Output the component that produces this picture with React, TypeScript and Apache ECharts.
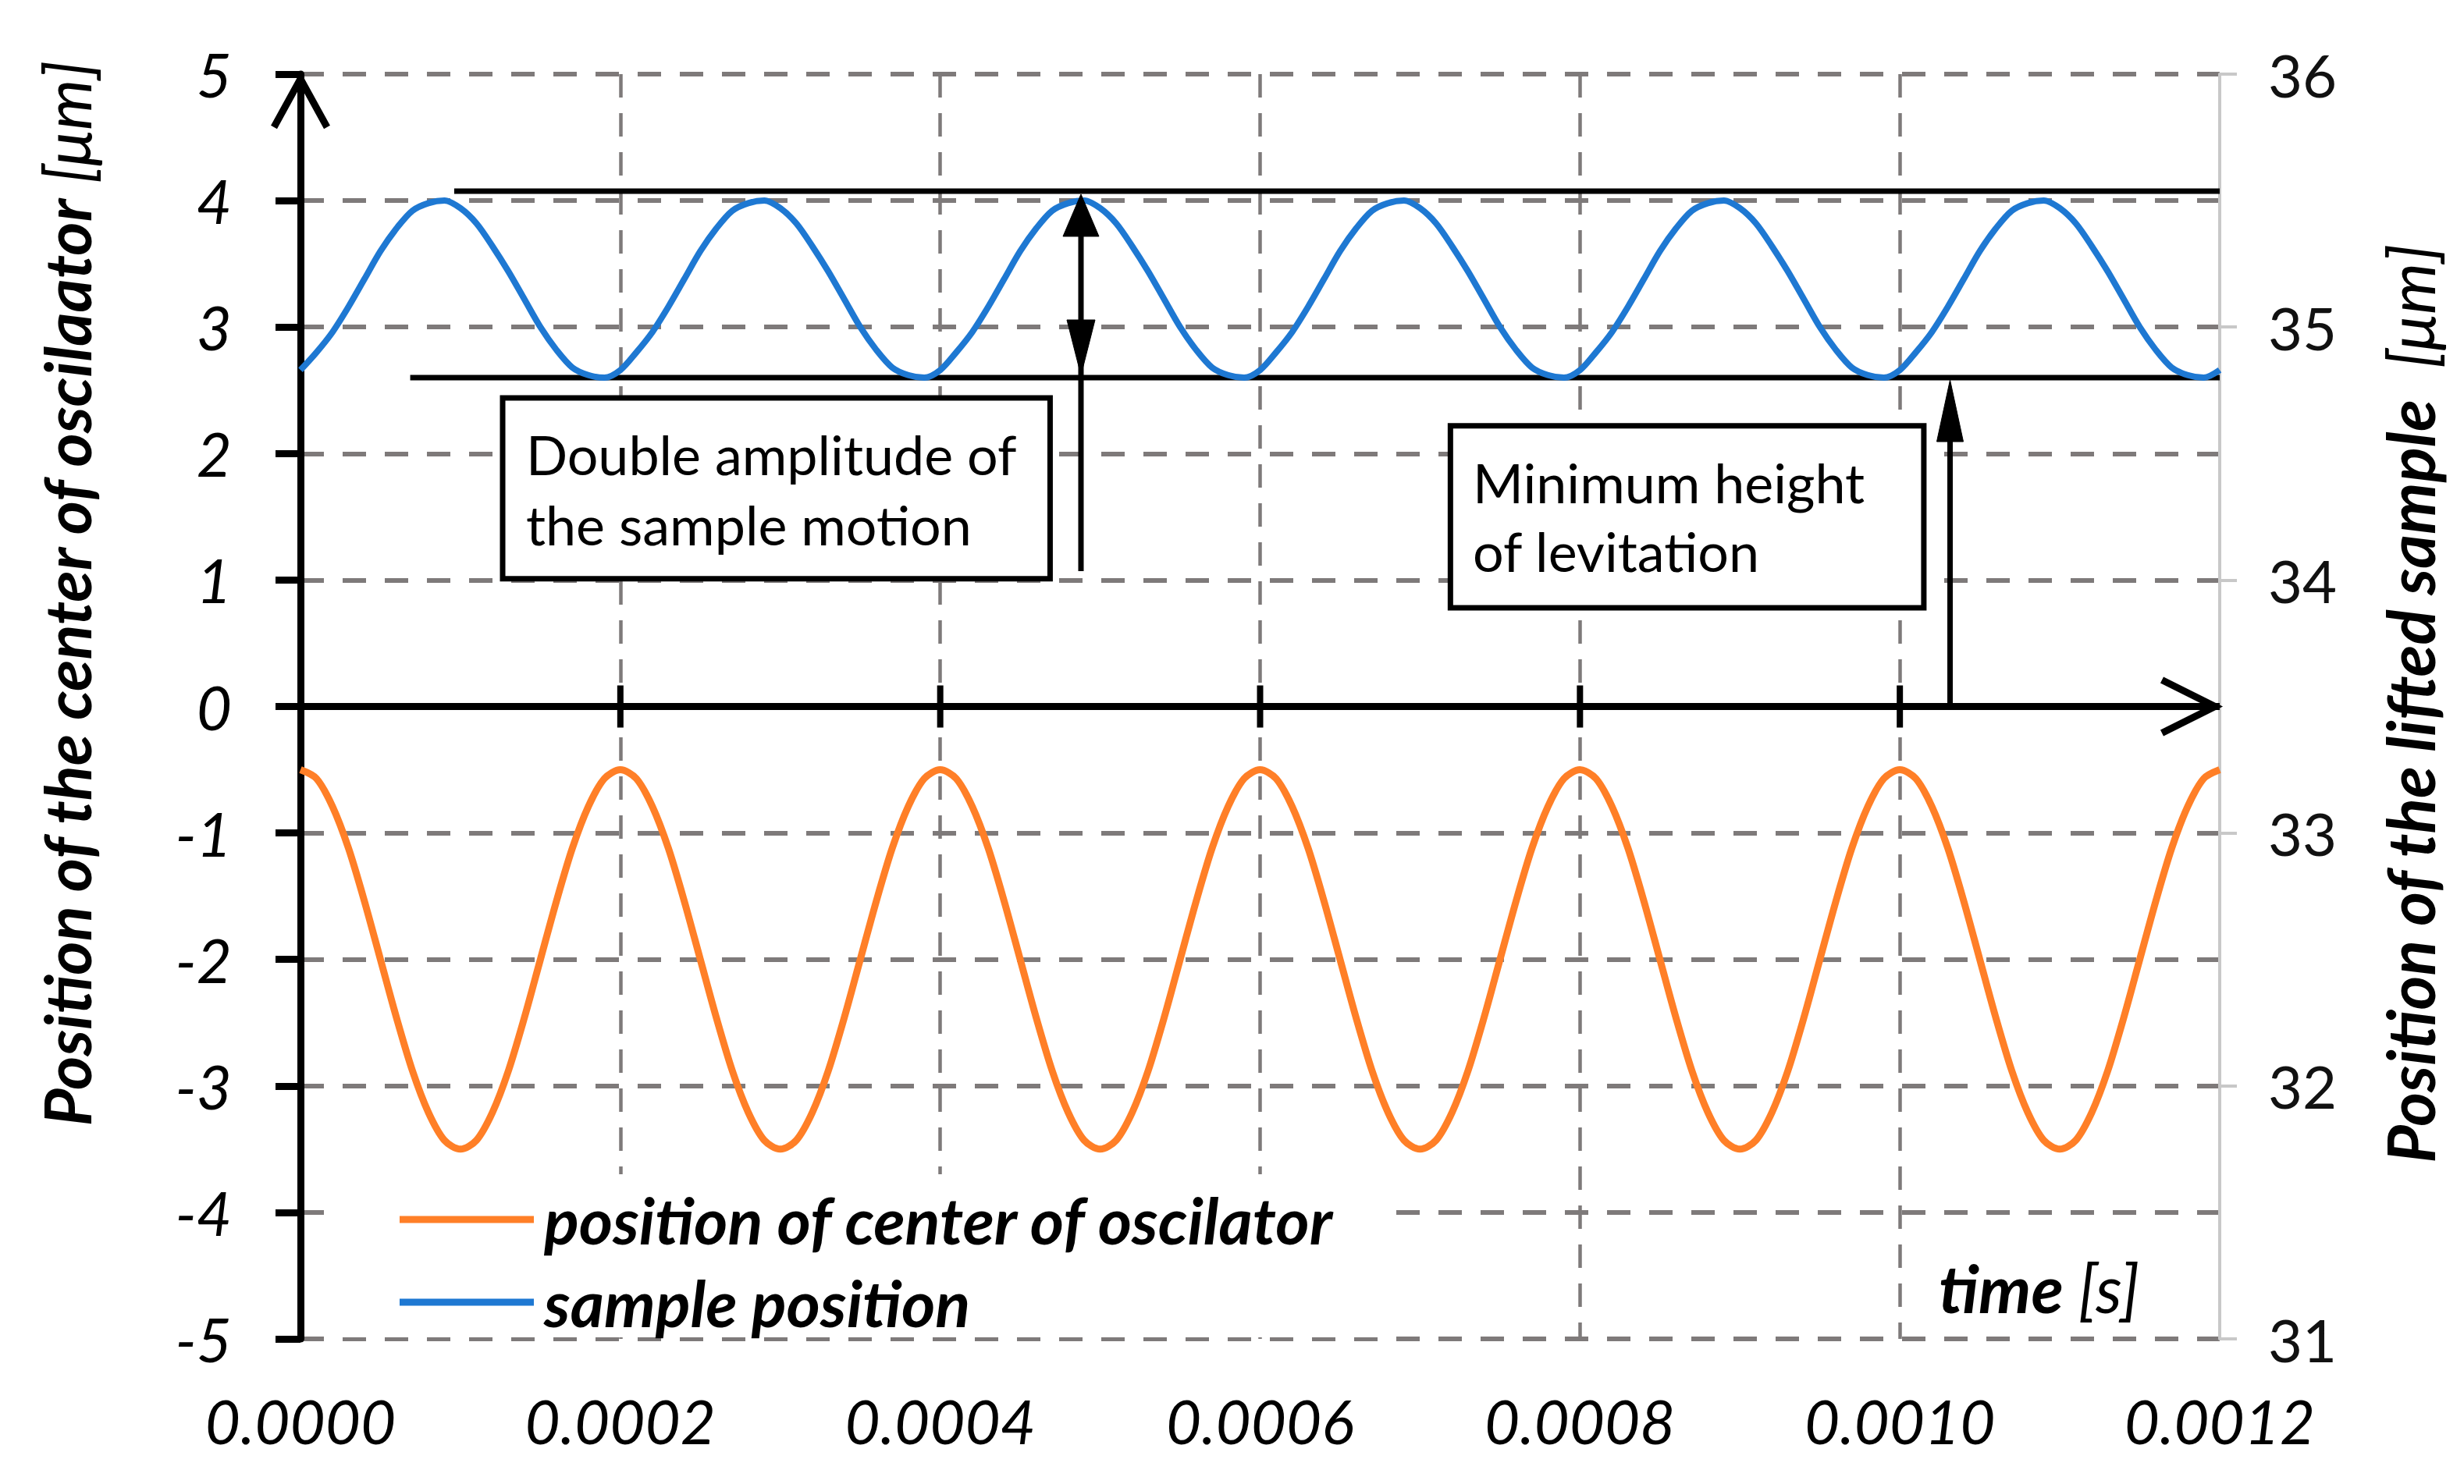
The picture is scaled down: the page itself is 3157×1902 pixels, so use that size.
import React, { useEffect, useRef } from "react";
import * as echarts from "echarts";

// ---- data ----
const timeS = [
  0, 0.00001, 0.00002, 0.00003, 0.00004, 0.00005, 0.00006, 0.00007, 0.00008, 0.00009,
  0.0001, 0.00011, 0.00012, 0.00013, 0.00014, 0.00015, 0.00016, 0.00017, 0.00018, 0.00019,
  0.0002, 0.00021, 0.00022, 0.00023, 0.00024, 0.00025, 0.00026, 0.00027, 0.00028, 0.00029,
  0.0003, 0.00031, 0.00032, 0.00033, 0.00034, 0.00035, 0.00036, 0.00037, 0.00038, 0.00039,
  0.0004, 0.00041, 0.00042, 0.00043, 0.00044, 0.00045, 0.00046, 0.00047, 0.00048, 0.00049,
  0.0005, 0.00051, 0.00052, 0.00053, 0.00054, 0.00055, 0.00056, 0.00057, 0.00058, 0.00059,
  0.0006, 0.00061, 0.00062, 0.00063, 0.00064, 0.00065, 0.00066, 0.00067, 0.00068, 0.00069,
  0.0007, 0.00071, 0.00072, 0.00073, 0.00074, 0.00075, 0.00076, 0.00077, 0.00078, 0.00079,
  0.0008, 0.00081, 0.00082, 0.00083, 0.00084, 0.00085, 0.00086, 0.00087, 0.00088, 0.00089,
  0.0009, 0.00091, 0.00092, 0.00093, 0.00094, 0.00095, 0.00096, 0.00097, 0.00098, 0.00099,
  0.001, 0.00101, 0.00102, 0.00103, 0.00104, 0.00105, 0.00106, 0.00107, 0.00108, 0.00109,
  0.0011, 0.00111, 0.00112, 0.00113, 0.00114, 0.00115, 0.00116, 0.00117, 0.00118, 0.00119,
  0.0012,
];

// position of center of oscilator [μm] (left axis)
const oscillatorCenter = [
  -0.5, -0.57, -0.79, -1.12, -1.54, -2.0, -2.46, -2.88, -3.21, -3.43,
  -3.5, -3.43, -3.21, -2.88, -2.46, -2.0, -1.54, -1.12, -0.79, -0.57,
  -0.5, -0.57, -0.79, -1.12, -1.54, -2.0, -2.46, -2.88, -3.21, -3.43,
  -3.5, -3.43, -3.21, -2.88, -2.46, -2.0, -1.54, -1.12, -0.79, -0.57,
  -0.5, -0.57, -0.79, -1.12, -1.54, -2.0, -2.46, -2.88, -3.21, -3.43,
  -3.5, -3.43, -3.21, -2.88, -2.46, -2.0, -1.54, -1.12, -0.79, -0.57,
  -0.5, -0.57, -0.79, -1.12, -1.54, -2.0, -2.46, -2.88, -3.21, -3.43,
  -3.5, -3.43, -3.21, -2.88, -2.46, -2.0, -1.54, -1.12, -0.79, -0.57,
  -0.5, -0.57, -0.79, -1.12, -1.54, -2.0, -2.46, -2.88, -3.21, -3.43,
  -3.5, -3.43, -3.21, -2.88, -2.46, -2.0, -1.54, -1.12, -0.79, -0.57,
  -0.5, -0.57, -0.79, -1.12, -1.54, -2.0, -2.46, -2.88, -3.21, -3.43,
  -3.5, -3.43, -3.21, -2.88, -2.46, -2.0, -1.54, -1.12, -0.79, -0.57,
  -0.5,
];

// sample position [μm] (right axis)
const samplePosition = [
  34.83, 34.9, 34.98, 35.08, 35.19, 35.3, 35.39, 35.46, 35.49, 35.5,
  35.47, 35.41, 35.32, 35.22, 35.11, 35.0, 34.91, 34.84, 34.81, 34.8,
  34.83, 34.9, 34.98, 35.08, 35.19, 35.3, 35.39, 35.46, 35.49, 35.5,
  35.47, 35.41, 35.32, 35.22, 35.11, 35.0, 34.91, 34.84, 34.81, 34.8,
  34.83, 34.9, 34.98, 35.08, 35.19, 35.3, 35.39, 35.46, 35.49, 35.5,
  35.47, 35.41, 35.32, 35.22, 35.11, 35.0, 34.91, 34.84, 34.81, 34.8,
  34.83, 34.9, 34.98, 35.08, 35.19, 35.3, 35.39, 35.46, 35.49, 35.5,
  35.47, 35.41, 35.32, 35.22, 35.11, 35.0, 34.91, 34.84, 34.81, 34.8,
  34.83, 34.9, 34.98, 35.08, 35.19, 35.3, 35.39, 35.46, 35.49, 35.5,
  35.47, 35.41, 35.32, 35.22, 35.11, 35.0, 34.91, 34.84, 34.81, 34.8,
  34.83, 34.9, 34.98, 35.08, 35.19, 35.3, 35.39, 35.46, 35.49, 35.5,
  35.47, 35.41, 35.32, 35.22, 35.11, 35.0, 34.91, 34.84, 34.81, 34.8,
  34.83,
];

const seriesNames = ["position of center of oscilator", "sample position"];
const xAxisRange = [0, 0.0012];
const xCrossTicks = [0.0002, 0.0004, 0.0006, 0.0008, 0.001];
const leftAxisRange = [-5, 5];
const rightAxisRange = [31, 36];

// annotations, in data units (time [s], left-axis value)
const amplitudeTop = { start: 0.0000961, level: 4.075 };
const amplitudeBottom = { start: 0.0000686, level: 2.6 };
const doubleArrow = { time: 0.000488, bottom: 1.07 };
const minArrow = { time: 0.0010314, bottom: 0 };
const boxAmplitude = { t0: 0.0001264, t1: 0.0004687, top: 2.44, bottom: 1.01 };
const boxMinimum = { t0: 0.000719, t1: 0.001015, top: 2.22, bottom: 0.78 };
const amplitudeText = { t: 0.000141, lines: ["Double amplitude of", "the sample motion"], baselines: [1.846, 1.296] };
const minimumText = { t: 0.000733, lines: ["Minimum height", "of levitation"], baselines: [1.625, 1.083] };

const FONT = "Lato";
const ORANGE = "#ff7f27";
const BLUE = "#1e78d2";
const GRID = "#7e7a7a";

export default function App() {
  const ref = useRef<HTMLDivElement>(null);

  useEffect(() => {
    const chart = echarts.init(ref.current!, null, { renderer: "svg" });
    chart.setOption({
      animation: false,
      backgroundColor: "#ffffff",
      grid: { left: 385, right: 313, top: 95, bottom: 186, containLabel: false },
      xAxis: {
        type: "value",
        min: xAxisRange[0],
        max: xAxisRange[1],
        interval: 0.0002,
        axisLine: { show: false },
        axisTick: { show: false },
        axisLabel: {
          formatter: (v: number) => v.toFixed(4),
          fontFamily: FONT,
          fontStyle: "italic",
          fontSize: 78,
          color: "#000",
          margin: 66,
        },
        splitLine: {
          show: true,
          showMinLine: false,
          showMaxLine: false,
          lineStyle: { color: GRID, width: 4.5, type: [30, 20] },
        },
      },
      yAxis: [
        {
          type: "value",
          min: leftAxisRange[0],
          max: leftAxisRange[1],
          interval: 1,
          position: "left",
          axisLine: { show: true, onZero: false, lineStyle: { color: "#000", width: 9 } },
          axisTick: { show: true, inside: false, length: 32, lineStyle: { color: "#000", width: 9 } },
          axisLabel: { fontFamily: FONT, fontStyle: "italic", fontSize: 78, color: "#000", margin: 88 },
          splitLine: { show: true, lineStyle: { color: GRID, width: 6, type: [30, 24] } },
        },
        {
          type: "value",
          min: rightAxisRange[0],
          max: rightAxisRange[1],
          interval: 1,
          position: "right",
          axisLine: { show: true, onZero: false, lineStyle: { color: "#c8c8c8", width: 4 } },
          axisTick: { show: true, inside: false, length: 22, lineStyle: { color: "#c8c8c8", width: 4 } },
          axisLabel: { fontFamily: FONT, fontSize: 76, color: "#111", margin: 62 },
          splitLine: { show: false },
        },
      ],
      legend: {
        orient: "vertical",
        left: 418,
        top: 1505,
        padding: [13, 75, 0, 94],
        backgroundColor: "#ffffff",
        itemWidth: 172,
        itemHeight: 9,
        itemGap: 16,
        icon: "rect",
        data: seriesNames,
        textStyle: {
          fontFamily: FONT,
          fontWeight: "bold",
          fontStyle: "italic",
          fontSize: 83,
          color: "#000",
          lineHeight: 90,
          padding: [0, 0, 0, 8],
        },
        z: 4,
      },
      series: [
        {
          name: seriesNames[0],
          type: "line",
          yAxisIndex: 0,
          data: timeS.map((t, i) => [t, oscillatorCenter[i]]),
          showSymbol: false,
          smooth: 0.3,
          lineStyle: { color: ORANGE, width: 9 },
          itemStyle: { color: ORANGE },
          z: 3,
        },
        {
          name: seriesNames[1],
          type: "line",
          yAxisIndex: 1,
          data: timeS.map((t, i) => [t, samplePosition[i]]),
          showSymbol: false,
          smooth: 0.3,
          lineStyle: { color: BLUE, width: 8 },
          itemStyle: { color: BLUE },
          z: 3,
        },
      ],
    });

    const P = (t: number, v: number) => chart.convertToPixel({ seriesIndex: 0 }, [t, v]) as number[];
    const BLACK = "#000";
    const seg = (a: number[], b: number[], w: number, z = 5) => ({
      type: "line",
      silent: true,
      z,
      shape: { x1: a[0], y1: a[1], x2: b[0], y2: b[1] },
      style: { stroke: BLACK, lineWidth: w },
    });
    const tri = (pts: number[][], z = 6) => ({
      type: "polygon",
      silent: true,
      z,
      shape: { points: pts },
      style: { fill: BLACK, stroke: BLACK, lineWidth: 1 },
    });
    const chevron = (pts: number[][]) => ({
      type: "polyline",
      silent: true,
      z: 5,
      shape: { points: pts },
      style: { stroke: BLACK, lineWidth: 9, fill: "none", lineJoin: "miter", lineCap: "butt" },
    });

    const els: any[] = [];
    const [x0, y0] = P(xAxisRange[0], 0);
    const [xEnd] = P(xAxisRange[1], 0);
    const [, yTop] = P(0, leftAxisRange[1]);

    // axis on zero with crossing ticks and open arrowheads
    els.push(seg([x0, y0], [xEnd, y0], 9));
    xCrossTicks.forEach((t) => {
      const [x] = P(t, 0);
      els.push(seg([x, y0 - 27], [x, y0 + 27], 8));
    });
    els.push(chevron([[xEnd - 74, y0 - 34], [xEnd - 6, y0], [xEnd - 74, y0 + 34]]));
    els.push(chevron([[x0 - 34, yTop + 68], [x0, yTop + 6], [x0 + 34, yTop + 68]]));

    // horizontal reference lines
    els.push(seg(P(amplitudeTop.start, amplitudeTop.level), P(xAxisRange[1], amplitudeTop.level), 7, 1));
    els.push(seg(P(amplitudeBottom.start, amplitudeBottom.level), P(xAxisRange[1], amplitudeBottom.level), 7, 1));

    // double arrow
    const [ax, aTop] = P(doubleArrow.time, amplitudeTop.level);
    const [, aMid] = P(doubleArrow.time, amplitudeBottom.level);
    const [, aBot] = P(doubleArrow.time, doubleArrow.bottom);
    els.push(seg([ax, aTop + 40], [ax, aBot], 7));
    els.push(tri([[ax, aTop + 4], [ax - 23, aTop + 58], [ax + 23, aTop + 58]]));
    els.push(tri([[ax, aMid - 3], [ax - 18, aMid - 74], [ax + 18, aMid - 74]]));

    // minimum-height arrow
    const [mx, mBase] = P(minArrow.time, minArrow.bottom);
    const [, mTip] = P(minArrow.time, amplitudeBottom.level);
    els.push(seg([mx, mBase], [mx, mTip + 60], 7));
    els.push(tri([[mx, mTip + 3], [mx - 17, mTip + 82], [mx + 17, mTip + 82]]));

    // boxes
    [boxAmplitude, boxMinimum].forEach((b) => {
      const [bx0, by0] = P(b.t0, b.top);
      const [bx1, by1] = P(b.t1, b.bottom);
      els.push({
        type: "rect",
        silent: true,
        z: 4,
        shape: { x: bx0, y: by0, width: bx1 - bx0, height: by1 - by0 },
        style: { fill: "#ffffff", stroke: BLACK, lineWidth: 7 },
      });
    });
    const boxFont = 70;
    [amplitudeText, minimumText].forEach((tb) => {
      tb.lines.forEach((line, i) => {
        const [tx, ty] = P(tb.t, tb.baselines[i]);
        els.push({
          type: "text",
          silent: true,
          z: 7,
          x: tx,
          y: ty - boxFont * 0.34,
          style: {
            text: line,
            fontFamily: FONT,
            fontSize: boxFont,
            fill: "#000",
            align: "left",
            verticalAlign: "middle",
          },
        });
      });
    });

    // axis titles
    const titleRich = (size: number) => ({
      b: { fontFamily: FONT, fontWeight: "bold", fontStyle: "italic", fontSize: size, fill: "#000" },
      n: { fontFamily: FONT, fontStyle: "italic", fontSize: size, fill: "#000" },
    });
    els.push({
      type: "text",
      silent: true,
      z: 7,
      x: 85,
      y: 762,
      rotation: Math.PI / 2,
      style: {
        text: "{b|Position of the center of oscilaator }{n|[μm]}",
        rich: titleRich(83),
        align: "center",
        verticalAlign: "middle",
      },
    });
    els.push({
      type: "text",
      silent: true,
      z: 7,
      x: 3087,
      y: 902,
      rotation: Math.PI / 2,
      style: {
        text: "{b|Position of the lifted sample}{n|  [μm]}",
        rich: titleRich(84),
        align: "center",
        verticalAlign: "middle",
      },
    });
    els.push({
      type: "text",
      silent: true,
      z: 7,
      x: 2484,
      y: 1650,
      style: {
        text: "{b|time }{n|[s]}",
        rich: titleRich(85),
        align: "left",
        verticalAlign: "middle",
      },
    });

    chart.setOption({ graphic: { elements: els } });

    return () => chart.dispose();
  }, []);

  return (
    <div
      ref={ref}
      style={{ position: "fixed", left: 0, top: 0, width: 3157, height: 1902, background: "#fff" }}
    />
  );
}
